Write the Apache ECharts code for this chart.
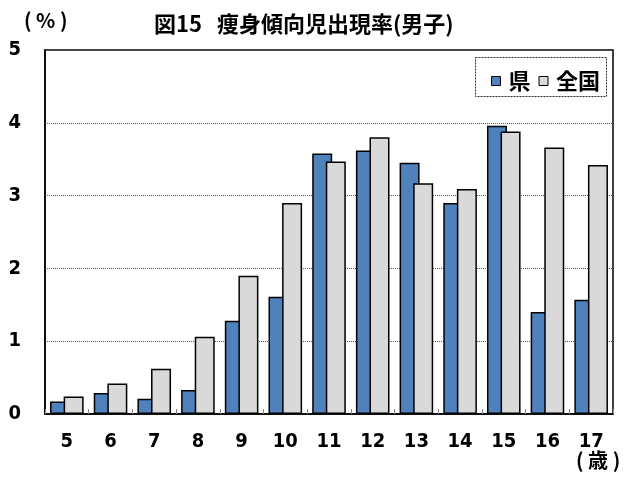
<!DOCTYPE html>
<html>
<head>
<meta charset="utf-8">
<script src="https://cdn.jsdelivr.net/npm/echarts@6/dist/echarts.min.js"></script>
<style>
  html, body { margin: 0; padding: 0; background: #fff; }
  #chart { width: 627px; height: 480px; }
</style>
</head>
<body>
<div id="chart"></div>
<script>
const ages = ['5', '6', '7', '8', '9', '10', '11', '12', '13', '14', '15', '16', '17']
const ken = [0.17, 0.29, 0.21, 0.33, 1.28, 1.61, 3.58, 3.62, 3.45, 2.90, 3.96, 1.40, 1.57]
const zenkoku = [0.24, 0.42, 0.62, 1.06, 1.90, 2.90, 3.47, 3.80, 3.17, 3.09, 3.88, 3.66, 3.42]

const numFont = '"Liberation Sans Narrow", "DejaVu Sans Condensed", sans-serif'
const jpFont = '"Noto Sans CJK JP", sans-serif'

const chart = echarts.init(document.getElementById('chart'))
chart.setOption({
  animation: false,
  backgroundColor: '#fff',
  title: {
    text: '図15   痩身傾向児出現率(男子)',
    left: 149,
    top: 8,
    textStyle: { fontFamily: jpFont, fontSize: 22, fontWeight: 'bold', color: '#000' }
  },
  graphic: [
    {
      type: 'text', left: 24, top: 10,
      style: { text: '( % )', font: 'bold 20px ' + jpFont, fill: '#000' }
    },
    {
      type: 'text', left: 576, top: 450,
      style: { text: '( 歳 )', font: 'bold 20px ' + jpFont, fill: '#000' }
    },
    {
      type: 'rect', left: 475, top: 57, z: 1,
      shape: { width: 131, height: 39 },
      style: { fill: '#fff', stroke: '#333', lineWidth: 1, lineDash: [2, 1] }
    }
  ],
  legend: {
    data: ['県', '全国'],
    left: 486,
    top: 65,
    icon: 'rect',
    itemWidth: 9,
    itemHeight: 9,
    itemGap: 8,
    z: 5,
    textStyle: { fontFamily: jpFont, fontSize: 22, fontWeight: 'bold', color: '#000', padding: [0, 0, 0, 3] },
    itemStyle: { borderColor: '#000', borderWidth: 1 }
  },
  grid: {
    left: 45, right: 14, top: 50, bottom: 66,
    show: true, borderColor: '#000', borderWidth: 1.5,
    containLabel: false
  },
  xAxis: {
    type: 'category',
    data: ages,
    axisLine: { lineStyle: { color: '#000', width: 1.5 } },
    axisTick: { show: true, inside: true, length: 5, lineStyle: { color: '#888' } },
    axisLabel: { margin: 18, fontFamily: numFont, fontSize: 20, fontWeight: 'bold', color: '#000' }
  },
  yAxis: {
    type: 'value',
    min: 0, max: 5, interval: 1,
    axisLine: { show: true, lineStyle: { color: '#000', width: 1.5 } },
    axisTick: { show: false },
    splitLine: { lineStyle: { color: '#555', type: 'dotted', width: 1 } },
    axisLabel: { margin: 24, fontFamily: numFont, fontSize: 20, fontWeight: 'bold', color: '#000' }
  },
  series: [
    {
      name: '県', type: 'bar', data: ken,
      barWidth: 20, barGap: '-32%',
      itemStyle: { color: '#4F81BD', borderColor: '#000', borderWidth: 1.5 }
    },
    {
      name: '全国', type: 'bar', data: zenkoku,
      barWidth: 20,
      itemStyle: { color: '#D9D9D9', borderColor: '#000', borderWidth: 1.5 }
    }
  ]
})
</script>
</body>
</html>
